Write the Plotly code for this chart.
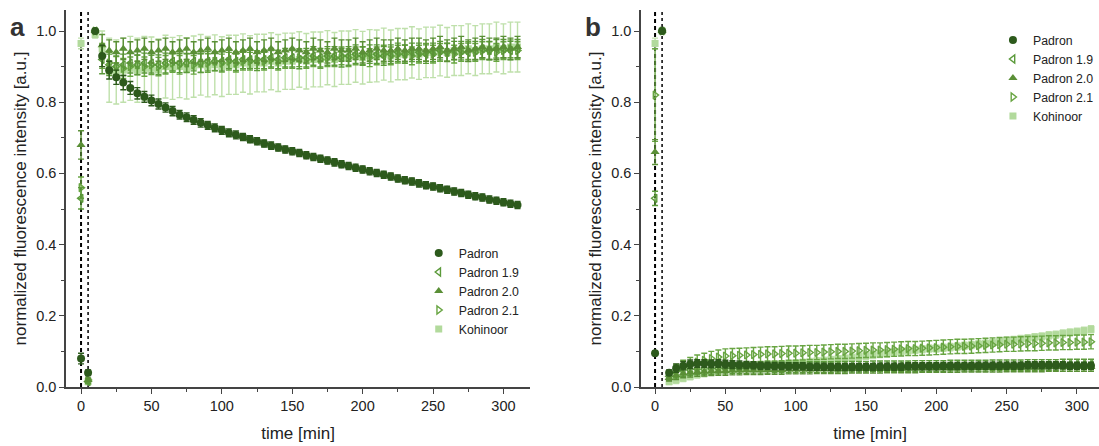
import plotly.graph_objects as go

# time points [min]
time_min = list(range(0, 315, 5))

# ---------- panel a ----------
padron_a = [0.08, 0.04, 1.00, 0.93, 0.89, 0.87, 0.855, 0.84, 0.825, 0.815,
            0.805, 0.795, 0.785, 0.775, 0.765, 0.758, 0.75, 0.742, 0.735, 0.728,
            0.721, 0.714, 0.708, 0.702, 0.696, 0.69, 0.684, 0.678, 0.673, 0.667,
            0.662, 0.657, 0.651, 0.646, 0.641, 0.636, 0.631, 0.626, 0.621, 0.616,
            0.611, 0.606, 0.601, 0.596, 0.591, 0.586, 0.581, 0.577, 0.572, 0.567,
            0.563, 0.558, 0.554, 0.549, 0.545, 0.540, 0.536, 0.532, 0.527, 0.523,
            0.519, 0.515, 0.511]
padron_a_err = [0.015, 0.008, 0.005, 0.03, 0.025, 0.02, 0.02, 0.018, 0.016, 0.015,
                0.015, 0.014, 0.013, 0.013, 0.012, 0.012, 0.012, 0.012, 0.011, 0.011,
                0.011, 0.011, 0.011, 0.01, 0.01, 0.01, 0.01, 0.01, 0.01, 0.01,
                0.01, 0.01, 0.01, 0.01, 0.01, 0.01, 0.01, 0.01, 0.01, 0.01,
                0.01, 0.01, 0.01, 0.01, 0.01, 0.01, 0.01, 0.01, 0.01, 0.01,
                0.01, 0.01, 0.01, 0.01, 0.01, 0.01, 0.01, 0.01, 0.01, 0.01,
                0.01, 0.01, 0.01]
padron19_a = [0.53, 0.015, 1.00, 0.92, 0.905, 0.90, 0.905, 0.91, 0.905, 0.91,
              0.91, 0.905, 0.91, 0.915, 0.91, 0.91, 0.915, 0.91, 0.915, 0.915,
              0.915, 0.92, 0.915, 0.92, 0.92, 0.915, 0.92, 0.925, 0.92, 0.925,
              0.925, 0.92, 0.925, 0.93, 0.925, 0.93, 0.93, 0.925, 0.93, 0.935,
              0.93, 0.935, 0.935, 0.93, 0.935, 0.94, 0.935, 0.94, 0.94, 0.935,
              0.94, 0.945, 0.94, 0.945, 0.945, 0.94, 0.945, 0.95, 0.945, 0.95,
              0.95, 0.945, 0.95]
padron19_a_err = [0.03, 0.005, 0.005, 0.04, 0.03, 0.03, 0.03, 0.028, 0.028, 0.028,
                  0.028, 0.028, 0.028, 0.027, 0.027, 0.027, 0.027, 0.027, 0.027, 0.027,
                  0.027, 0.026, 0.026, 0.026, 0.026, 0.026, 0.026, 0.026, 0.026, 0.026,
                  0.026, 0.026, 0.026, 0.026, 0.026, 0.026, 0.026, 0.026, 0.026, 0.026,
                  0.026, 0.026, 0.026, 0.026, 0.026, 0.026, 0.026, 0.026, 0.026, 0.026,
                  0.026, 0.026, 0.026, 0.026, 0.026, 0.026, 0.026, 0.026, 0.026, 0.026,
                  0.026, 0.026, 0.026]
padron20_a = [0.68, 0.02, 1.00, 0.96, 0.945, 0.94, 0.95, 0.94, 0.945, 0.95,
              0.94, 0.945, 0.95, 0.94, 0.945, 0.95, 0.94, 0.945, 0.95, 0.94,
              0.945, 0.95, 0.94, 0.945, 0.95, 0.94, 0.945, 0.95, 0.94, 0.945,
              0.95, 0.945, 0.94, 0.95, 0.945, 0.94, 0.95, 0.945, 0.945, 0.95,
              0.94, 0.945, 0.95, 0.945, 0.945, 0.95, 0.945, 0.95, 0.95, 0.945,
              0.95, 0.955, 0.945, 0.95, 0.955, 0.945, 0.95, 0.955, 0.95, 0.95,
              0.955, 0.95, 0.955]
padron20_a_err = [0.04, 0.005, 0.005, 0.03, 0.03, 0.03, 0.03, 0.03, 0.03, 0.03,
                  0.03, 0.03, 0.03, 0.03, 0.03, 0.03, 0.03, 0.03, 0.03, 0.03,
                  0.03, 0.03, 0.03, 0.03, 0.03, 0.03, 0.03, 0.03, 0.03, 0.03,
                  0.03, 0.03, 0.03, 0.03, 0.03, 0.03, 0.03, 0.03, 0.03, 0.03,
                  0.03, 0.03, 0.03, 0.03, 0.03, 0.03, 0.03, 0.03, 0.03, 0.03,
                  0.03, 0.03, 0.03, 0.03, 0.03, 0.03, 0.03, 0.03, 0.03, 0.03,
                  0.03, 0.03, 0.03]
padron21_a = [0.56, 0.02, 1.00, 0.93, 0.91, 0.90, 0.895, 0.90, 0.905, 0.90,
              0.905, 0.90, 0.905, 0.91, 0.905, 0.91, 0.905, 0.91, 0.91, 0.915,
              0.91, 0.915, 0.91, 0.915, 0.915, 0.92, 0.915, 0.92, 0.915, 0.92,
              0.92, 0.925, 0.92, 0.925, 0.92, 0.925, 0.925, 0.93, 0.925, 0.93,
              0.93, 0.925, 0.93, 0.935, 0.93, 0.935, 0.935, 0.93, 0.935, 0.94,
              0.935, 0.94, 0.94, 0.935, 0.94, 0.945, 0.94, 0.945, 0.945, 0.94,
              0.945, 0.95, 0.945]
padron21_a_err = [0.03, 0.005, 0.005, 0.035, 0.03, 0.028, 0.028, 0.027, 0.027, 0.027,
                  0.027, 0.026, 0.026, 0.026, 0.026, 0.026, 0.026, 0.026, 0.026, 0.026,
                  0.025, 0.025, 0.025, 0.025, 0.025, 0.025, 0.025, 0.025, 0.025, 0.025,
                  0.025, 0.025, 0.025, 0.025, 0.025, 0.025, 0.025, 0.025, 0.025, 0.025,
                  0.025, 0.025, 0.025, 0.025, 0.025, 0.025, 0.025, 0.025, 0.025, 0.025,
                  0.025, 0.025, 0.025, 0.025, 0.025, 0.025, 0.025, 0.025, 0.025, 0.025,
                  0.025, 0.025, 0.025]
kohinoor_a = [0.965, 0.015, 0.99, 0.95, 0.89, 0.885, 0.89, 0.895, 0.89, 0.895,
              0.895, 0.89, 0.90, 0.895, 0.90, 0.895, 0.90, 0.905, 0.90, 0.905,
              0.90, 0.905, 0.905, 0.91, 0.905, 0.91, 0.91, 0.915, 0.91, 0.915,
              0.915, 0.92, 0.915, 0.92, 0.92, 0.925, 0.92, 0.925, 0.925, 0.93,
              0.925, 0.93, 0.93, 0.935, 0.93, 0.935, 0.935, 0.94, 0.935, 0.94,
              0.94, 0.945, 0.94, 0.945, 0.945, 0.95, 0.945, 0.95, 0.95, 0.955,
              0.95, 0.955, 0.955]
kohinoor_a_err = [0.015, 0.008, 0.01, 0.05, 0.09, 0.09, 0.09, 0.09, 0.09, 0.09,
                  0.088, 0.088, 0.088, 0.087, 0.087, 0.086, 0.086, 0.085, 0.085, 0.084,
                  0.084, 0.083, 0.083, 0.082, 0.082, 0.081, 0.081, 0.08, 0.08, 0.079,
                  0.079, 0.078, 0.078, 0.077, 0.077, 0.076, 0.076, 0.075, 0.075, 0.074,
                  0.074, 0.074, 0.073, 0.073, 0.073, 0.072, 0.072, 0.072, 0.071, 0.071,
                  0.071, 0.071, 0.07, 0.07, 0.07, 0.07, 0.07, 0.07, 0.07, 0.07,
                  0.07, 0.07, 0.07]

# ---------- panel b ----------
padron_b = [0.095, 1.00, 0.04, 0.053, 0.06, 0.064, 0.066, 0.066, 0.065, 0.066,
            0.064, 0.063, 0.062, 0.062, 0.061, 0.06, 0.06, 0.059, 0.059, 0.058,
            0.058, 0.058, 0.057, 0.057, 0.057, 0.056, 0.056, 0.056, 0.056, 0.056,
            0.056, 0.056, 0.057, 0.057, 0.057, 0.057, 0.058, 0.058, 0.058, 0.058,
            0.058, 0.059, 0.059, 0.059, 0.059, 0.059, 0.06, 0.06, 0.06, 0.06,
            0.06, 0.06, 0.06, 0.061, 0.061, 0.061, 0.061, 0.061, 0.061, 0.06,
            0.06, 0.06, 0.06]
padron_b_err = [0.005, 0.005, 0.008, 0.012, 0.012, 0.012, 0.011, 0.011, 0.011, 0.011,
                0.011, 0.011, 0.011, 0.01, 0.01, 0.01, 0.01, 0.01, 0.01, 0.01,
                0.01, 0.01, 0.01, 0.01, 0.01, 0.01, 0.01, 0.01, 0.01, 0.01,
                0.01, 0.01, 0.01, 0.01, 0.01, 0.01, 0.01, 0.01, 0.01, 0.01,
                0.01, 0.01, 0.01, 0.01, 0.01, 0.01, 0.01, 0.01, 0.01, 0.01,
                0.01, 0.01, 0.01, 0.01, 0.01, 0.01, 0.01, 0.01, 0.01, 0.01,
                0.01, 0.01, 0.01]
padron19_b = [0.53, 1.00, 0.03, 0.04, 0.045, 0.048, 0.05, 0.05, 0.051, 0.052,
              0.052, 0.053, 0.053, 0.053, 0.054, 0.054, 0.054, 0.055, 0.055, 0.055,
              0.055, 0.055, 0.056, 0.056, 0.056, 0.056, 0.057, 0.057, 0.057, 0.057,
              0.057, 0.058, 0.058, 0.058, 0.058, 0.058, 0.058, 0.059, 0.059, 0.059,
              0.059, 0.059, 0.06, 0.06, 0.06, 0.06, 0.06, 0.06, 0.061, 0.061,
              0.061, 0.061, 0.061, 0.062, 0.062, 0.062, 0.062, 0.062, 0.063, 0.063,
              0.063, 0.063, 0.063]
padron19_b_err = [0.02, 0.005, 0.01, 0.015, 0.015, 0.015, 0.015, 0.015, 0.015, 0.015,
                  0.015, 0.015, 0.015, 0.015, 0.015, 0.015, 0.015, 0.015, 0.015, 0.015,
                  0.015, 0.015, 0.015, 0.015, 0.015, 0.015, 0.015, 0.015, 0.015, 0.015,
                  0.015, 0.015, 0.015, 0.015, 0.015, 0.015, 0.015, 0.015, 0.015, 0.015,
                  0.015, 0.015, 0.015, 0.015, 0.015, 0.015, 0.015, 0.015, 0.015, 0.015,
                  0.015, 0.015, 0.015, 0.015, 0.015, 0.015, 0.015, 0.015, 0.015, 0.015,
                  0.015, 0.015, 0.015]
padron20_b = [0.66, 1.00, 0.025, 0.033, 0.038, 0.04, 0.042, 0.043, 0.044, 0.045,
              0.045, 0.046, 0.046, 0.047, 0.047, 0.047, 0.048, 0.048, 0.048, 0.049,
              0.049, 0.049, 0.049, 0.05, 0.05, 0.05, 0.05, 0.05, 0.051, 0.051,
              0.051, 0.051, 0.051, 0.052, 0.052, 0.052, 0.052, 0.052, 0.053, 0.053,
              0.053, 0.053, 0.053, 0.053, 0.054, 0.054, 0.054, 0.054, 0.054, 0.054,
              0.055, 0.055, 0.055, 0.055, 0.055, 0.055, 0.056, 0.056, 0.056, 0.056,
              0.056, 0.056, 0.056]
padron20_b_err = [0.035, 0.005, 0.008, 0.012, 0.012, 0.012, 0.012, 0.012, 0.012, 0.012,
                  0.012, 0.012, 0.012, 0.012, 0.012, 0.012, 0.012, 0.012, 0.012, 0.012,
                  0.012, 0.012, 0.012, 0.012, 0.012, 0.012, 0.012, 0.012, 0.012, 0.012,
                  0.012, 0.012, 0.012, 0.012, 0.012, 0.012, 0.012, 0.012, 0.012, 0.012,
                  0.012, 0.012, 0.012, 0.012, 0.012, 0.012, 0.012, 0.012, 0.012, 0.012,
                  0.012, 0.012, 0.012, 0.012, 0.012, 0.012, 0.012, 0.012, 0.012, 0.012,
                  0.012, 0.012, 0.012]
padron21_b = [0.82, 1.00, 0.03, 0.045, 0.055, 0.063, 0.07, 0.075, 0.08, 0.084,
              0.087, 0.088, 0.089, 0.09, 0.091, 0.092, 0.093, 0.093, 0.094, 0.095,
              0.095, 0.096, 0.097, 0.097, 0.098, 0.099, 0.10, 0.10, 0.101, 0.102,
              0.103, 0.104, 0.104, 0.105, 0.106, 0.107, 0.108, 0.108, 0.109, 0.11,
              0.111, 0.112, 0.113, 0.114, 0.114, 0.115, 0.116, 0.117, 0.118, 0.119,
              0.12, 0.12, 0.121, 0.122, 0.122, 0.123, 0.124, 0.124, 0.125, 0.125,
              0.126, 0.126, 0.127]
padron21_b_err = [0.13, 0.005, 0.012, 0.018, 0.02, 0.02, 0.02, 0.02, 0.02, 0.02,
                  0.02, 0.02, 0.02, 0.02, 0.02, 0.02, 0.02, 0.02, 0.02, 0.02,
                  0.02, 0.02, 0.02, 0.02, 0.02, 0.02, 0.02, 0.02, 0.02, 0.02,
                  0.02, 0.02, 0.02, 0.02, 0.02, 0.02, 0.02, 0.02, 0.02, 0.02,
                  0.02, 0.02, 0.02, 0.02, 0.02, 0.02, 0.02, 0.02, 0.02, 0.02,
                  0.02, 0.02, 0.02, 0.02, 0.02, 0.02, 0.02, 0.02, 0.02, 0.02,
                  0.02, 0.02, 0.02]
kohinoor_b = [0.965, 1.00, 0.015, 0.02, 0.025, 0.03, 0.035, 0.039, 0.043, 0.047,
              0.05, 0.052, 0.054, 0.055, 0.057, 0.058, 0.06, 0.061, 0.063, 0.064,
              0.066, 0.068, 0.07, 0.072, 0.074, 0.076, 0.078, 0.08, 0.082, 0.085,
              0.088, 0.09, 0.093, 0.095, 0.098, 0.10, 0.102, 0.104, 0.106, 0.108,
              0.108, 0.11, 0.112, 0.114, 0.116, 0.118, 0.12, 0.122, 0.124, 0.127,
              0.13, 0.132, 0.135, 0.137, 0.14, 0.142, 0.145, 0.147, 0.15, 0.153,
              0.155, 0.158, 0.162]
kohinoor_b_err = [0.015, 0.005, 0.008, 0.01, 0.01, 0.01, 0.01, 0.01, 0.01, 0.01,
                  0.01, 0.01, 0.01, 0.01, 0.01, 0.01, 0.01, 0.01, 0.01, 0.01,
                  0.01, 0.01, 0.01, 0.01, 0.01, 0.01, 0.01, 0.01, 0.01, 0.01,
                  0.01, 0.01, 0.01, 0.01, 0.01, 0.01, 0.01, 0.01, 0.01, 0.01,
                  0.01, 0.01, 0.01, 0.01, 0.01, 0.01, 0.01, 0.01, 0.01, 0.01,
                  0.01, 0.01, 0.01, 0.01, 0.01, 0.01, 0.01, 0.01, 0.01, 0.01,
                  0.01, 0.01, 0.01]

series_names = ["Padron", "Padron 1.9", "Padron 2.0", "Padron 2.1", "Kohinoor"]
y_ticks = [0.0, 0.2, 0.4, 0.6, 0.8, 1.0]
x_ticks = [0, 50, 100, 150, 200, 250, 300]

styles = {
    "Padron": dict(color="#2d5a1c", symbol="circle", size=8, open=False, err="#2d5a1c"),
    "Padron 1.9": dict(color="#5b9a3a", symbol="triangle-left-open", size=7, open=True, err="#5b9a3a"),
    "Padron 2.0": dict(color="#5a8f36", symbol="triangle-up", size=8, open=False, err="#5a8f36"),
    "Padron 2.1": dict(color="#68a542", symbol="triangle-right-open", size=7, open=True, err="#68a542"),
    "Kohinoor": dict(color="#b2da9c", symbol="square", size=7, open=False, err="#bfe0ab"),
}

panel_a = {"Padron": (padron_a, padron_a_err), "Padron 1.9": (padron19_a, padron19_a_err),
           "Padron 2.0": (padron20_a, padron20_a_err), "Padron 2.1": (padron21_a, padron21_a_err),
           "Kohinoor": (kohinoor_a, kohinoor_a_err)}
panel_b = {"Padron": (padron_b, padron_b_err), "Padron 1.9": (padron19_b, padron19_b_err),
           "Padron 2.0": (padron20_b, padron20_b_err), "Padron 2.1": (padron21_b, padron21_b_err),
           "Kohinoor": (kohinoor_b, kohinoor_b_err)}

draw_order = ["Kohinoor", "Padron 2.1", "Padron 1.9", "Padron 2.0", "Padron"]

fig = go.Figure()
for panel, xa, ya, lg in [(panel_a, "x", "y", "legend"), (panel_b, "x2", "y2", "legend2")]:
    for name in draw_order:
        vals, errs = panel[name]
        st = styles[name]
        fig.add_trace(go.Scatter(
            x=time_min, y=vals, mode="markers", name=name,
            xaxis=xa, yaxis=ya, legend=lg,
            legendrank=series_names.index(name) + 1,
            marker=dict(color=st["color"], symbol=st["symbol"], size=st["size"],
                        line=dict(width=1.4 if st["open"] else 0, color=st["color"])),
            error_y=dict(type="data", array=errs, visible=True, color=st["err"],
                         thickness=1.4, width=3),
            cliponaxis=False,
        ))

axis_font = dict(family="Liberation Sans, Arial, sans-serif", size=17, color="#222")
tick_font = dict(family="Liberation Sans, Arial, sans-serif", size=14.5, color="#222")

def xax(domain, rng):
    return dict(domain=domain, range=rng, tickvals=x_ticks, ticks="outside", ticklen=5,
                tickwidth=1.3, tickcolor="#444", showline=True, linecolor="#444", linewidth=1.5,
                showgrid=False, zeroline=False, tickfont=tick_font,
                minor=dict(dtick=25, tick0=0, ticks="outside", ticklen=3, tickcolor="#444", tickwidth=1.2),
                title=dict(text="time [min]", font=axis_font, standoff=14))

def yax(anchor):
    return dict(anchor=anchor, domain=[0, 1], range=[0, 1.059], tickvals=y_ticks, tickformat=".1f",
                ticks="outside", ticklen=5, tickwidth=1.3, tickcolor="#444",
                showline=True, linecolor="#444", linewidth=1.5, showgrid=False, zeroline=False,
                tickfont=tick_font,
                minor=dict(dtick=0.1, tick0=0, ticks="outside", ticklen=3, tickcolor="#444", tickwidth=1.2),
                title=dict(text="normalized fluorescence intensity [a.u.]", font=axis_font, standoff=5))

legend_common = dict(font=dict(family="Liberation Sans, Arial, sans-serif", size=12.3, color="#222"),
                     bgcolor="rgba(0,0,0,0)", borderwidth=0, traceorder="normal",
                     xanchor="left", yanchor="top", itemsizing="trace", tracegroupgap=0)

fig.update_layout(
    width=1099, height=446,
    margin=dict(l=0, r=0, t=10, b=59, autoexpand=False),
    paper_bgcolor="white", plot_bgcolor="white",
    xaxis=xax([0.0601, 0.4823], [-10.65, 318.9]),
    yaxis=yax("x"),
    xaxis2=xax([0.5833, 1.0], [-9.96, 315.7]),
    yaxis2=yax("x2"),
    legend=dict(x=0.381, y=0.394, **legend_common),
    legend2=dict(x=0.9035, y=0.959, **legend_common),
    showlegend=True,
)

# vertical guide lines at t=0 (dashed) and t=5 (dotted)
for xr, yr in [("x", "y domain"), ("x2", "y2 domain")]:
    fig.add_shape(type="line", xref=xr, yref=yr, x0=0, x1=0, y0=0, y1=1,
                  line=dict(color="black", width=2, dash="4px,3px"), layer="below")
    fig.add_shape(type="line", xref=xr, yref=yr, x0=5, x1=5, y0=0, y1=1,
                  line=dict(color="black", width=1.5, dash="dot"), layer="below")

for lbl, xp in [("a", 0.0155), ("b", 0.5396)]:
    fig.add_annotation(text="<b>%s</b>" % lbl, xref="paper", yref="paper", x=xp, y=0.955,
                       xanchor="center", yanchor="middle", showarrow=False,
                       font=dict(family="Liberation Sans, Arial, sans-serif", size=26, color="#333"))

fig.write_html("out.html")
